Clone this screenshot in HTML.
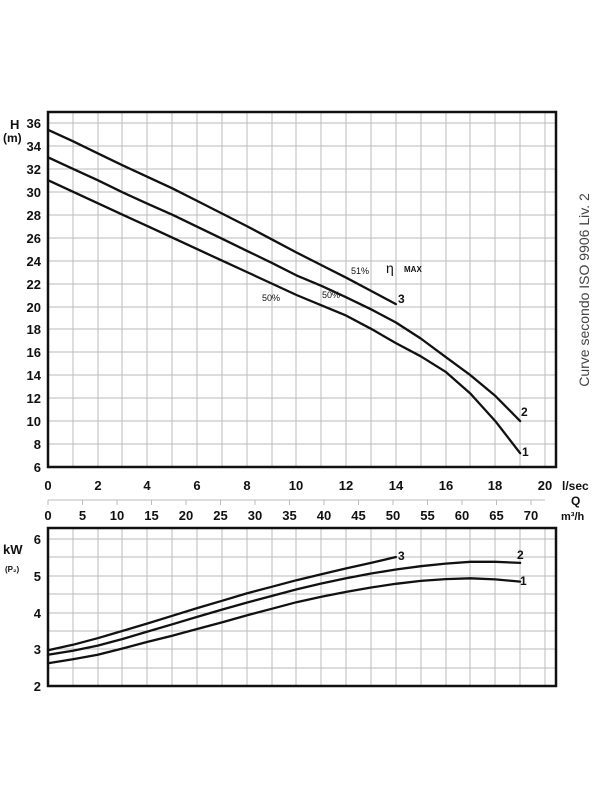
<!DOCTYPE html>
<html><head><style>
body{margin:0;background:#fff}
svg text{font-family:"Liberation Sans",Arial,sans-serif;font-weight:bold;fill:#111}
</style></head><body>
<svg width="600" height="800" viewBox="0 0 600 800" xmlns="http://www.w3.org/2000/svg">
<g stroke="#bbb" stroke-width="1" fill="none">
<path d="M73,112V467M98,112V467M122,112V467M147,112V467M172,112V467M197,112V467M222,112V467M247,112V467M272,112V467M296,112V467M321,112V467M346,112V467M371,112V467M396,112V467M421,112V467M446,112V467M470,112V467M495,112V467M520,112V467M545,112V467"/>
<path d="M48,123H556M48,146H556M48,169H556M48,192H556M48,215H556M48,238H556M48,261H556M48,284H556M48,307H556M48,329H556M48,352H556M48,375H556M48,398H556M48,421H556M48,444H556"/>
<path d="M73,528V686M98,528V686M122,528V686M147,528V686M172,528V686M197,528V686M222,528V686M247,528V686M272,528V686M296,528V686M321,528V686M346,528V686M371,528V686M396,528V686M421,528V686M446,528V686M470,528V686M495,528V686M520,528V686M545,528V686"/>
<path d="M48,539H556M48,557H556M48,576H556M48,594H556M48,613H556M48,631H556M48,649H556M48,668H556"/>
</g>
<rect x="48" y="112" width="508" height="355" fill="none" stroke="#111" stroke-width="2.5"/>
<rect x="48" y="528" width="508" height="158" fill="none" stroke="#111" stroke-width="2.5"/>
<path d="M48,500H545" stroke="#bbb" stroke-width="1"/>
<g stroke="#bbb"><path d="M48,500v5M82.5,500v5M117,500v5M151.5,500v5M186,500v5M220.5,500v5M255,500v5M289.5,500v5M324,500v5M358.5,500v5M393,500v5M427.5,500v5M462,500v5M496.5,500v5M531,500v5"/></g>

<g stroke="#111" stroke-width="2.3" fill="none" stroke-linejoin="round" stroke-linecap="round">
<polyline points="48,180.2 72.85,191.7 97.7,203.2 122.55,214.7 147.4,226.1 172.25,237.6 197.1,249.1 221.95,260.6 246.8,272 271.65,283.5 296.5,295 321.35,305.3 346.2,315.6 371.05,328.8 395.9,343.1 420.75,356.3 445.6,371.8 470.45,393.6 495.3,421.1 520.15,453.2"/>
<polyline points="48,157.3 72.85,168.8 97.7,180.2 122.55,192.3 147.4,203.7 172.25,214.7 197.1,226.7 221.95,238.7 246.8,250.8 271.65,262.8 296.5,275.4 321.35,285.8 346.2,297.3 371.05,309.3 395.9,322.5 420.75,338.5 445.6,356.9 470.45,375.2 495.3,395.9 520.15,421.1"/>
<polyline points="48,129.8 72.85,141.2 97.7,153.3 122.55,165.3 147.4,176.8 172.25,188.3 197.1,200.9 221.95,213.5 246.8,226.1 271.65,239.3 296.5,252.5 321.35,265.1 346.2,277.7 371.05,290.9 395.9,304.1"/>
<polyline points="48,663.2 72.85,659.2 97.7,654.8 122.55,648.5 147.4,641.9 172.25,635.7 197.1,629 221.95,622.4 246.8,615.4 271.65,608.8 296.5,602.2 321.35,596.7 346.2,591.9 371.05,587.5 395.9,583.8 420.75,580.9 445.6,579.1 470.45,578.3 495.3,579.4 520.15,581.6"/>
<polyline points="48,654.8 72.85,650.7 97.7,645.6 122.55,639 147.4,631.6 172.25,624.3 197.1,616.9 221.95,609.6 246.8,602.6 271.65,596 296.5,589.4 321.35,583.5 346.2,578.3 371.05,573.5 395.9,569.5 420.75,566.2 445.6,563.6 470.45,561.8 495.3,561.8 520.15,562.9"/>
<polyline points="48,650.3 72.85,644.8 97.7,638.2 122.55,630.9 147.4,623.5 172.25,615.8 197.1,608.1 221.95,600.8 246.8,593.4 271.65,586.8 296.5,580.2 321.35,574.3 346.2,568.4 371.05,562.9 395.9,557"/>
</g>

<g font-size="13" text-anchor="end">
<text x="41" y="128">36</text><text x="41" y="151">34</text><text x="41" y="174">32</text><text x="41" y="197">30</text><text x="41" y="220">28</text><text x="41" y="243">26</text><text x="41" y="266">24</text><text x="41" y="289">22</text><text x="41" y="312">20</text><text x="41" y="334">18</text><text x="41" y="357">16</text><text x="41" y="380">14</text><text x="41" y="403">12</text><text x="41" y="426">10</text><text x="41" y="449">8</text><text x="41" y="472">6</text>
<text x="41" y="544">6</text><text x="41" y="581">5</text><text x="41" y="618">4</text><text x="41" y="654">3</text><text x="41" y="691">2</text>
</g>
<text x="10" y="129" font-size="13">H</text>
<text x="3" y="142" font-size="12">(m)</text>
<text x="3" y="554" font-size="13">kW</text>
<text x="5" y="572" font-size="8">(P₂)</text>
<g font-size="13" text-anchor="middle">
<text x="48" y="490">0</text><text x="98" y="490">2</text><text x="147" y="490">4</text><text x="197" y="490">6</text><text x="247" y="490">8</text><text x="296" y="490">10</text><text x="346" y="490">12</text><text x="396" y="490">14</text><text x="446" y="490">16</text><text x="495" y="490">18</text><text x="545" y="490">20</text>
<text x="48" y="520">0</text><text x="82.5" y="520">5</text><text x="117" y="520">10</text><text x="151.5" y="520">15</text><text x="186" y="520">20</text><text x="220.5" y="520">25</text><text x="255" y="520">30</text><text x="289.5" y="520">35</text><text x="324" y="520">40</text><text x="358.5" y="520">45</text><text x="393" y="520">50</text><text x="427.5" y="520">55</text><text x="462" y="520">60</text><text x="496.5" y="520">65</text><text x="531" y="520">70</text>
</g>
<text x="562" y="490" font-size="12">l/sec</text>
<text x="571" y="505" font-size="12">Q</text>
<text x="561" y="520" font-size="11">m³/h</text>
<text x="398" y="303" font-size="12">3</text>
<text x="521" y="416" font-size="12">2</text>
<text x="522" y="456" font-size="12">1</text>
<text x="398" y="560" font-size="12">3</text>
<text x="517" y="559" font-size="12">2</text>
<text x="520" y="585" font-size="12">1</text>
<text x="351" y="274" font-size="9" style="font-weight:normal">51%</text>
<text x="322" y="298" font-size="9" style="font-weight:normal">50%</text>
<text x="262" y="301" font-size="9" style="font-weight:normal">50%</text>
<text x="386" y="273" font-size="14" style="font-weight:normal">η</text>
<text x="404" y="272" font-size="8">MAX</text>
<text transform="translate(589,290) rotate(-90)" font-size="14" text-anchor="middle" style="font-weight:normal;fill:#444">Curve secondo ISO 9906 Liv. 2</text>
</svg>
</body></html>
